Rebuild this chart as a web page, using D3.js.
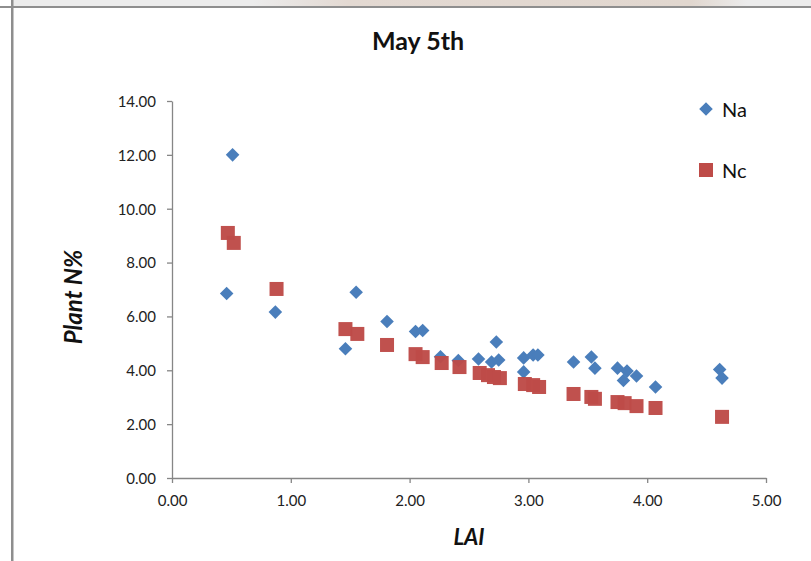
<!DOCTYPE html>
<html><head><meta charset="utf-8">
<script src="https://cdn.jsdelivr.net/npm/d3@7"></script>
<style>body{margin:0;background:#fff}svg{display:block}text{font-family:Lato,"Open Sans",sans-serif}</style>
</head><body>
<script>
const naLAI = [0.46,0.51,0.87,1.46,1.55,1.81,2.05,2.11,2.26,2.41,2.58,2.73,2.69,2.75,2.96,2.96,3.04,3.08,3.38,3.53,3.56,3.75,3.83,3.80,3.91,4.07,4.61,4.63];
const naN   = [6.85,12.0,6.16,4.80,6.90,5.81,5.44,5.48,4.50,4.36,4.42,5.05,4.31,4.38,4.46,3.94,4.57,4.57,4.31,4.49,4.08,4.08,3.97,3.62,3.79,3.38,4.03,3.71];
const ncLAI = [0.47,0.52,0.88,1.46,1.56,1.81,2.05,2.11,2.27,2.42,2.59,2.66,2.71,2.76,2.97,3.04,3.09,3.38,3.53,3.56,3.75,3.81,3.91,4.07,4.63];
const ncN   = [9.10,8.73,7.02,5.53,5.35,4.94,4.60,4.49,4.27,4.12,3.90,3.82,3.75,3.71,3.49,3.45,3.38,3.12,3.01,2.94,2.82,2.78,2.67,2.60,2.27];
const xTicks = [0,1,2,3,4,5];
const yTicks = [0,2,4,6,8,10,12,14];
const title = "May 5th", xLabel = "LAI", yLabel = "Plant N%";
const seriesNames = ["Na","Nc"];
const colors = ["#4a7ebb","#be4b48"];

const W=811,H=561;
const svg=d3.select("body").append("svg").attr("width",W).attr("height",H);
const defs=svg.append("defs");
const g=defs.append("linearGradient").attr("id","band");
[[0,"#ececec"],[0.3,"#ececec"],[0.42,"#e3d9d2"],[0.85,"#e1d7cf"],[0.92,"#ececec"],[1,"#ececec"]].forEach(([o,c])=>g.append("stop").attr("offset",o).attr("stop-color",c));
svg.append("rect").attr("x",13).attr("y",0).attr("width",W-13).attr("height",6).attr("fill","url(#band)");
svg.append("rect").attr("x",0).attr("y",6).attr("width",W).attr("height",2).attr("fill","#8e8e8e");
svg.append("rect").attr("x",11).attr("y",0).attr("width",2.5).attr("height",H).attr("fill","#8e8e8e");

const x=d3.scaleLinear().domain([0,5]).range([172,766]);
const y=d3.scaleLinear().domain([0,14]).range([478,101]);

const xa=svg.append("g").attr("transform","translate(0,478)")
 .call(d3.axisBottom(x).tickValues(xTicks).tickFormat(d3.format(".2f")).tickSizeInner(5).tickSizeOuter(0).tickPadding(12));
const ya=svg.append("g").attr("transform","translate(172,0)")
 .call(d3.axisLeft(y).tickValues(yTicks).tickFormat(d3.format(".2f")).tickSizeInner(5).tickSizeOuter(0).tickPadding(11));
[xa,ya].forEach(a=>{a.selectAll("path,line").attr("stroke","#868686").attr("stroke-width",1.3);
 a.selectAll("text").attr("fill","#222").style("font-size","15px").style("font-family","Lato,sans-serif");});
ya.selectAll("text").attr("dy","0.36em");

svg.append("text").attr("x",418).attr("y",50).attr("text-anchor","middle").style("font-size","25px").style("font-weight","bold").attr("fill","#111").text(title);
svg.append("text").attr("x",469).attr("y",545).attr("text-anchor","middle").style("font-size","22px").style("font-weight","bold").style("font-style","italic").attr("fill","#111").text(xLabel);
svg.append("text").attr("transform","translate(82,297) rotate(-90)").attr("text-anchor","middle").style("font-size","24px").style("font-weight","bold").style("font-style","italic").attr("fill","#111").text(yLabel);

const diamond=d3.symbol().type(d3.symbolSquare).size(92);
svg.append("g").selectAll("path").data(naLAI.map((v,i)=>[v,naN[i]])).join("path")
 .attr("d",diamond).attr("transform",d=>`translate(${x(d[0])},${y(d[1])}) rotate(45)`).attr("fill",colors[0]);
svg.append("g").selectAll("rect").data(ncLAI.map((v,i)=>[v,ncN[i]])).join("rect")
 .attr("x",d=>x(d[0])-7).attr("y",d=>y(d[1])-7).attr("width",14).attr("height",14).attr("fill",colors[1]).attr("opacity",0.97);

// legend
const lg=svg.append("g");
lg.append("path").attr("d",d3.symbol().type(d3.symbolSquare).size(92)).attr("transform","translate(706,109) rotate(45)").attr("fill",colors[0]);
lg.append("rect").attr("x",699).attr("y",163).attr("width",14).attr("height",14).attr("fill",colors[1]);
lg.append("text").attr("x",722).attr("y",117).style("font-size","20px").attr("fill","#111").text(seriesNames[0]);
lg.append("text").attr("x",722).attr("y",178).style("font-size","20px").attr("fill","#111").text(seriesNames[1]);
</script>
</body></html>
